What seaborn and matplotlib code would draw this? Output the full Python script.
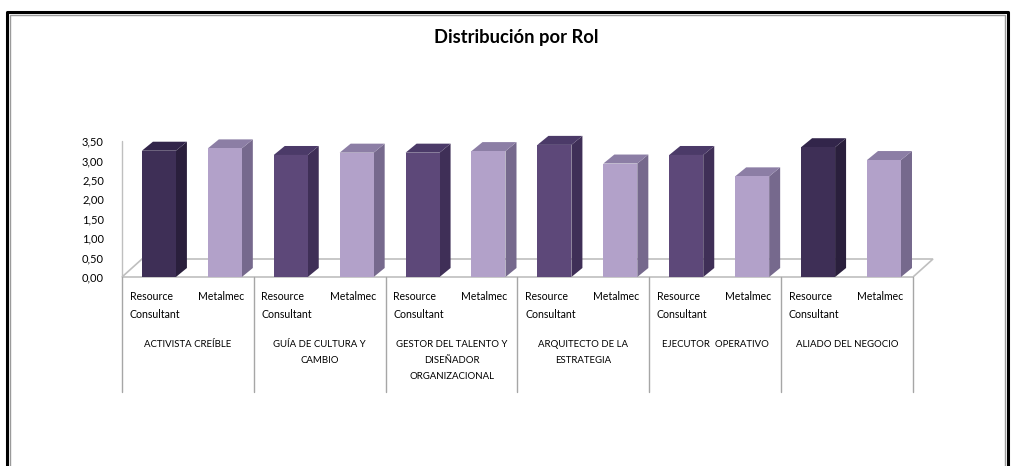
import matplotlib
matplotlib.use("Agg")
import matplotlib.pyplot as plt
import matplotlib.transforms as mtransforms
from matplotlib.patches import Polygon
from matplotlib.lines import Line2D
import seaborn as sns
import pandas as pd

roles = ["ACTIVISTA CREÍBLE", "GUÍA DE CULTURA Y\nCAMBIO",
         "GESTOR DEL TALENTO Y\nDISEÑADOR\nORGANIZACIONAL",
         "ARQUITECTO DE LA\nESTRATEGIA", "EJECUTOR  OPERATIVO",
         "ALIADO DEL NEGOCIO"]
series = ["Resource\nConsultant", "Metalmec"]
resource_vals = [3.25, 3.14, 3.20, 3.40, 3.14, 3.34]
metalmec_vals = [3.31, 3.20, 3.24, 2.92, 2.59, 3.01]
yticks = [0.0, 0.5, 1.0, 1.5, 2.0, 2.5, 3.0, 3.5]
title = "Distribución por Rol"

# colours (front, side, top)
rc_dark = ("#3e2f56", "#2a1f3c", "#32254a")
rc_mid = ("#5d4879", "#3f2f57", "#4b3a68")
met = ("#b2a1c9", "#76698d", "#8c7ea5")
rc_styles = [rc_dark, rc_mid, rc_mid, rc_mid, rc_mid, rc_dark]

sns.set_theme(style="white")
plt.rcParams["font.family"] = ["Lato", "DejaVu Sans"]

df = pd.DataFrame({
    "Rol": roles * 2,
    "Serie": [series[0]] * 6 + [series[1]] * 6,
    "Valor": resource_vals + metalmec_vals,
})

W, H = 1014, 466
fig = plt.figure(figsize=(W / 100, H / 100), dpi=100)
x0, x1, y0, y1 = 122, 913, 277, 141
ax = fig.add_axes([x0 / W, (H - y0) / H, (x1 - x0) / W, (y0 - y1) / H])

sns.barplot(data=df, x="Rol", y="Valor", hue="Serie", order=roles,
            hue_order=series, width=1.0, dodge=True, saturation=1,
            palette=[rc_mid[0], met[0]], legend=False, ax=ax)

ax.set_xlim(-0.5, 5.5)
ax.set_ylim(0, 3.5)
for s in ax.spines.values():
    s.set_visible(False)

px_x = (x1 - x0) / 6.0          # pixels per category unit
px_y = (y0 - y1) / 3.5          # pixels per value unit
bar_w = 34 / px_x
ddx, ddy = 11 / px_x, 9 / px_y     # bar depth
fdx, fdy = 20 / px_x, 18 / px_y    # floor depth

# floor
floor = Polygon([(-0.5, 0), (5.5, 0), (5.5 + fdx, fdy), (-0.5 + fdx, fdy)],
                closed=True, facecolor="white", edgecolor="#bfbfbf",
                lw=1.2, clip_on=False, zorder=1)
ax.add_patch(floor)
# value axis line
ax.add_line(Line2D([-0.5, -0.5], [0, 3.5], color="#bfbfbf", lw=1.0,
                   clip_on=False, zorder=1))

bars = [p for p in ax.patches if p is not floor]
for p in bars:
    cx = p.get_x() + p.get_width() / 2
    grp = int(round(cx))
    is_rc = cx < grp
    st = rc_styles[grp] if is_rc else met
    newc = grp - 0.22 if is_rc else grp + 0.28
    p.set_x(newc - bar_w / 2)
    p.set_width(bar_w)
    p.set_facecolor(st[0])
    p.set_edgecolor("none")
    p.set_zorder(3)
    p.set_clip_on(False)
    l, r, h = newc - bar_w / 2, newc + bar_w / 2, p.get_height()
    side = Polygon([(r, 0), (r + ddx, ddy), (r + ddx, h + ddy), (r, h)],
                   closed=True, facecolor=st[1], edgecolor="none",
                   clip_on=False, zorder=2.5)
    top = Polygon([(l, h), (r, h), (r + ddx, h + ddy), (l + ddx, h + ddy)],
                  closed=True, facecolor=st[2], edgecolor="none",
                  clip_on=False, zorder=2.5)
    ax.add_patch(side)
    ax.add_patch(top)

# y ticks
ax.set_yticks(yticks)
ax.set_yticklabels([f"{v:.2f}".replace(".", ",") for v in yticks],
                   fontsize=8, color="#000000")
ax.tick_params(axis="y", length=0, pad=13)
ax.set_xticks([])
ax.set_xlabel("")
ax.set_ylabel("")

# multi-level category labels
trans = mtransforms.blended_transform_factory(ax.transData, ax.transAxes)
def fy(py):
    return (y0 - py) / (y0 - y1)

for g in range(6):
    for k, lab in enumerate(series):
        ax.text(g - 0.25 + 0.5 * k, fy(291), lab, transform=trans,
                ha="center", va="top", multialignment="left",
                fontsize=7.6, linespacing=1.8, color="#000000")
    ax.text(g, fy(340), roles[g], transform=trans, ha="center", va="top",
            multialignment="center", fontsize=6.9, linespacing=2.0,
            color="#000000")
for g in range(7):
    ax.add_line(Line2D([g - 0.5, g - 0.5], [fy(y0), fy(392)], transform=trans,
                       color="#a6a6a6", lw=1.0, clip_on=False))

fig.text(516 / W, (H - 38) / H, title, ha="center", va="center",
         fontsize=13.2, fontweight="bold", color="#000000")

# chart frame
ft = fig.transFigure
def fp(px, py):
    return px / W, (H - py) / H
xs, ys = zip(fp(7, 470), fp(7, 12), fp(1008, 12), fp(1008, 470))
fig.add_artist(Line2D(xs, ys, transform=ft, color="black", lw=2.2))
xs, ys = zip(fp(10, 470), fp(10, 15), fp(1005, 15), fp(1005, 470))
fig.add_artist(Line2D(xs, ys, transform=ft, color="#9a9a9a", lw=1.0))

fig.savefig("out.png", dpi=100)
